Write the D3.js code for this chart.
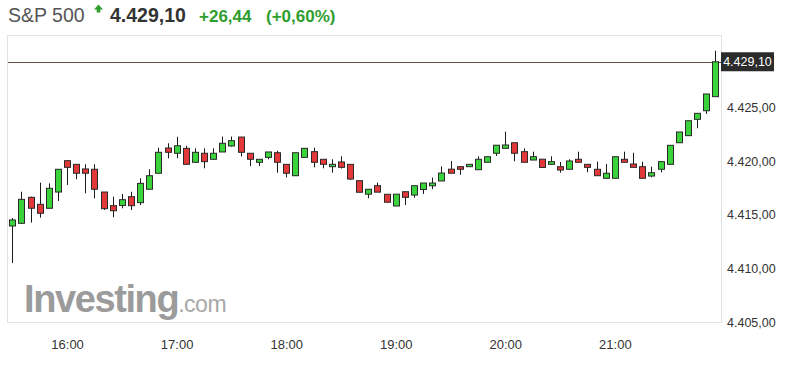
<!DOCTYPE html>
<html><head><meta charset="utf-8">
<script src="https://cdn.jsdelivr.net/npm/d3@7"></script>
<style>html,body{margin:0;padding:0;background:#fff;}svg{display:block;font-family:"Liberation Sans",Arial,sans-serif;}</style>
</head><body><svg id="c" width="796" height="371"></svg>
<script>
const times = ["15:30","15:35","15:40","15:45","15:50","15:55","16:00","16:05","16:10","16:15","16:20","16:25",
"16:30","16:35","16:40","16:45","16:50","16:55","17:00","17:05","17:10","17:15","17:20","17:25",
"17:30","17:35","17:40","17:45","17:50","17:55","18:00","18:05","18:10","18:15","18:20","18:25",
"18:30","18:35","18:40","18:45","18:50","18:55","19:00","19:05","19:10","19:15","19:20","19:25",
"19:30","19:35","19:40","19:45","19:50","19:55","20:00","20:05","20:10","20:15","20:20","20:25",
"20:30","20:35","20:40","20:45","20:50","20:55","21:00","21:05","21:10","21:15","21:20","21:25",
"21:30","21:35","21:40","21:45","21:50","21:55"];
const open = [4413.81,4414.06,4416.48,4415.83,4415.46,4416.97,4419.89,4419.55,4419.12,4419.09,4416.97,4415.70,
4415.72,4416.54,4415.98,4417.23,4418.72,4421.07,4420.58,4421.04,4419.74,4420.58,4420.02,4420.70,
4421.26,4422.09,4420.58,4419.74,4420.20,4420.63,4419.55,4418.49,4420.20,4420.73,4420.02,4419.33,
4419.77,4419.55,4418.03,4416.77,4417.56,4416.76,4415.67,4417.00,4416.69,4417.21,4417.55,4418.00,
4419.10,4419.33,4419.33,4419.05,4419.74,4420.58,4421.04,4421.56,4420.73,4419.95,4420.03,4419.55,
4419.33,4419.09,4420.02,4419.55,4419.09,4418.25,4418.25,4420.02,4419.58,4419.33,4418.46,4419.09,
4419.55,4421.56,4422.22,4423.74,4424.54,4425.85];
const high = [4414.55,4417.00,4416.54,4417.84,4417.78,4419.10,4419.90,4419.55,4419.55,4419.55,4416.97,4416.54,
4416.79,4417.00,4418.25,4419.09,4421.10,4421.51,4422.12,4421.28,4421.04,4421.04,4421.04,4422.14,
4422.14,4422.09,4420.58,4420.02,4420.70,4420.82,4419.55,4420.63,4421.04,4421.10,4420.02,4420.02,
4420.30,4419.55,4418.03,4417.23,4417.84,4416.76,4416.77,4417.00,4417.56,4417.81,4418.32,4419.37,
4419.86,4419.33,4419.55,4420.30,4420.26,4421.33,4422.59,4421.56,4421.04,4420.73,4420.03,4420.30,
4419.77,4420.02,4420.73,4419.55,4419.80,4419.58,4420.26,4420.73,4420.63,4419.80,4419.33,4419.80,
4421.32,4422.56,4423.61,4424.30,4426.10,4430.13];
const low = [4410.36,4414.00,4414.12,4414.58,4415.40,4416.14,4417.63,4418.16,4416.85,4416.39,4415.30,4414.62,
4415.46,4415.30,4415.76,4417.20,4418.70,4420.11,4420.11,4419.50,4419.70,4419.18,4420.00,4420.70,
4421.20,4420.28,4419.39,4419.39,4420.02,4418.77,4418.34,4418.49,4420.20,4419.27,4419.18,4418.77,
4419.16,4418.09,4416.95,4416.39,4416.96,4416.02,4415.67,4415.76,4416.44,4416.79,4417.25,4418.00,
4418.72,4418.58,4419.33,4419.05,4419.74,4420.33,4421.04,4419.83,4419.74,4419.95,4419.26,4419.55,
4418.77,4419.09,4419.74,4418.81,4418.49,4418.25,4418.25,4419.74,4419.27,4418.25,4418.34,4418.81,
4419.55,4421.56,4422.22,4422.91,4424.24,4425.85];
const close = [4414.37,4416.29,4415.46,4414.99,4417.32,4419.09,4419.27,4418.72,4418.72,4417.23,4415.42,4415.23,
4416.26,4415.70,4417.78,4418.49,4420.67,4420.67,4421.28,4419.55,4420.67,4419.80,4420.58,4421.51,
4421.75,4420.67,4420.02,4420.02,4420.70,4419.74,4418.72,4420.63,4421.04,4419.74,4419.55,4419.55,
4419.27,4418.18,4416.95,4417.23,4416.96,4416.02,4416.77,4416.48,4417.56,4417.81,4417.81,4418.74,
4418.72,4419.09,4419.55,4420.02,4420.26,4421.33,4421.35,4420.58,4419.74,4420.26,4419.26,4419.80,
4419.02,4419.86,4419.74,4419.27,4418.49,4418.72,4420.26,4419.74,4419.27,4418.25,4418.77,4419.80,
4421.32,4422.56,4423.61,4424.30,4426.10,4429.10];
const xTickLabels = ["16:00","17:00","18:00","19:00","20:00","21:00"];
const yTicks = [4405,4410,4415,4420,4425];
const lastPrice = 4429.10;
const titleName = "S&P 500", titlePrice = "4.429,10", titleChange = "+26,44", titlePct = "(+0,60%)";

const svg = d3.select("#c");
const parse = d3.timeParse("%H:%M");
const loc = d3.formatLocale({decimal:",", thousands:".", grouping:[3], currency:["",""]});
const fmt = loc.format(",.2f");

const x = d3.scaleTime().domain([parse(times[0]), parse(times[times.length-1])]).range([12.3, 715.3]);
const y = d3.scaleLinear().domain([4405, 4430]).range([320.6, 52.1]);

// plot frame
svg.append("rect").attr("x",7.5).attr("y",35.5).attr("width",714).attr("height",287)
  .attr("fill","none").attr("stroke","#e3e3e3");

// watermark
const wm = svg.append("text").attr("x",24).attr("y",312).attr("fill","#9b9b9b");
wm.append("tspan").text("Investing").attr("font-size",38).attr("font-weight","bold").attr("letter-spacing",-1.4);
wm.append("tspan").text(".com").attr("font-size",23).attr("fill","#a8a8a8").attr("letter-spacing",-0.5);

// last price line
svg.append("line").attr("x1",8).attr("x2",721).attr("y1",Math.round(y(lastPrice))+0.5).attr("y2",Math.round(y(lastPrice))+0.5)
  .attr("stroke","#6b4a4a").attr("stroke-width",1.2);

// candles
const data = times.map((t,i)=>({t:parse(t),o:open[i],h:high[i],l:low[i],c:close[i]}));
const g = svg.append("g");
data.forEach(d=>{
  const cx = Math.round(x(d.t));
  g.append("line").attr("x1",cx+0.5).attr("x2",cx+0.5).attr("y1",y(d.h)).attr("y2",y(d.l))
    .attr("stroke","#1a1a1a").attr("stroke-width",1);
  const top = y(Math.max(d.o,d.c)), bot = y(Math.min(d.o,d.c));
  g.append("rect").attr("x",cx-2.5).attr("y",top).attr("width",6).attr("height",Math.max(1,bot-top))
    .attr("fill", d.c>=d.o ? "#3bd33b" : "#e3383a").attr("stroke","#2a2a2a").attr("stroke-width",1);
});

// y axis
const ya = svg.append("g").attr("transform","translate(722,1.5)")
  .call(d3.axisRight(y).tickValues(yTicks).tickFormat(fmt).tickSize(0).tickPadding(5));
ya.select(".domain").remove();
ya.selectAll("text").attr("font-size",12.5).attr("fill","#333").attr("font-family","Liberation Sans, Arial, sans-serif");

// last price label
const ly = y(lastPrice);
svg.append("rect").attr("x",721).attr("y",ly-9.5).attr("width",53).attr("height",19).attr("fill","#2b2b2b");
svg.append("text").attr("x",747.5).attr("y",ly+4.5).attr("text-anchor","middle").attr("fill","#fff")
  .attr("font-size",12.5).text(fmt(lastPrice));

// x axis
const xa = svg.append("g").attr("transform","translate(0,333)")
  .call(d3.axisBottom(x).tickValues(xTickLabels.map(parse)).tickFormat((d,i)=>xTickLabels[i]).tickSize(0).tickPadding(7));
xa.select(".domain").remove();
xa.selectAll("text").attr("font-size",13).attr("fill","#333").attr("font-family","Liberation Sans, Arial, sans-serif");

// header
svg.append("text").attr("x",8).attr("y",22).attr("font-size",19.5).attr("fill","#555").text(titleName);
svg.append("path").attr("d","M98.5,4.5 L103,9.5 L100.3,9.5 L100.3,12.5 L96.7,12.5 L96.7,9.5 L94,9.5 Z").attr("fill","#2e9e2e");
svg.append("text").attr("x",110).attr("y",22).attr("font-size",19.5).attr("font-weight","bold").attr("fill","#333").text(titlePrice);
svg.append("text").attr("x",199).attr("y",22).attr("font-size",17).attr("font-weight","bold").attr("fill","#2e9e2e").text(titleChange);
svg.append("text").attr("x",266).attr("y",22).attr("font-size",17).attr("font-weight","bold").attr("fill","#2e9e2e").text(titlePct);
</script></body></html>
